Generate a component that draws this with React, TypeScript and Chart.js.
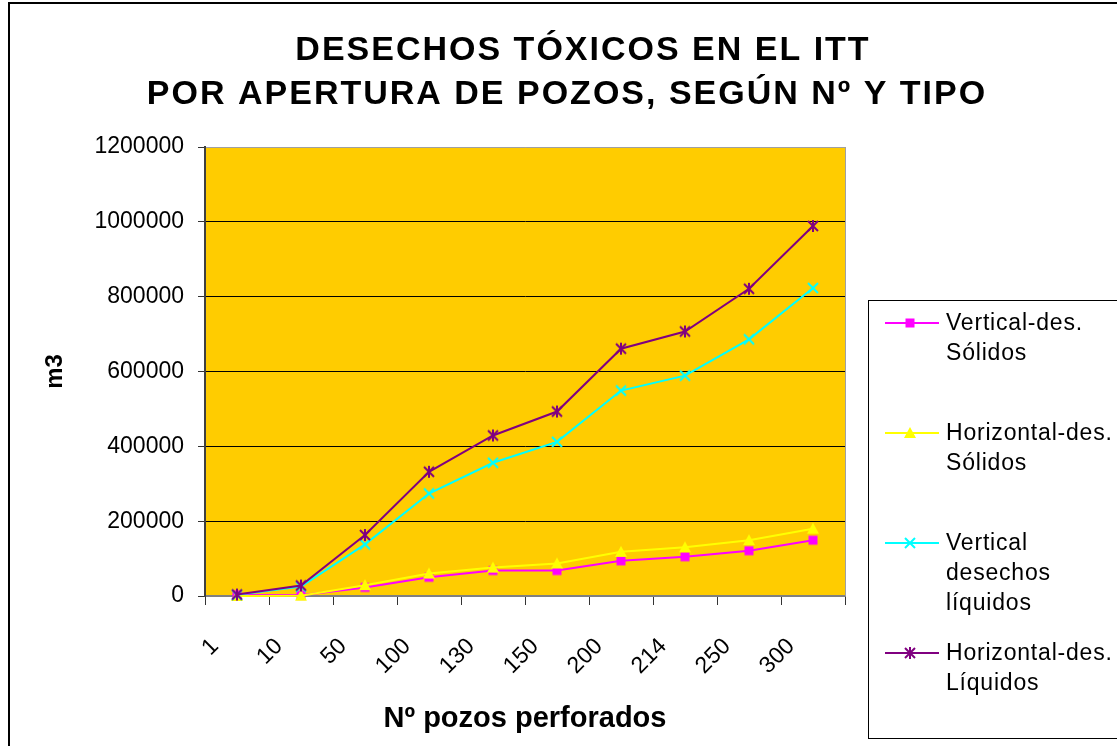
import React, { useEffect, useRef } from 'react';
import { Chart, registerables } from 'chart.js';

Chart.register(...registerables);

// ---- data ----
const categories = ['1', '10', '50', '100', '130', '150', '200', '214', '250', '300'];
const verticalSolidos = [3000, 2000, 23000, 50000, 68000, 68000, 94000, 105000, 121000, 149000];
const horizontalSolidos = [0, 1000, 29000, 60000, 76000, 87000, 118000, 130000, 149000, 180000];
const verticalLiquidos = [3000, 25000, 138000, 274000, 356000, 412000, 549000, 589000, 686000, 823000];
const horizontalLiquidos = [4000, 28000, 163000, 332000, 429000, 493000, 661000, 707000, 821000, 989000];
const yTickLabels = ['0', '200000', '400000', '600000', '800000', '1000000', '1200000'];
const seriesNames = [
  ['Vertical-des.', 'Sólidos'],
  ['Horizontal-des.', 'Sólidos'],
  ['Vertical', 'desechos', 'líquidos'],
  ['Horizontal-des.', 'Líquidos'],
];
const seriesColors = ['#FF00FF', '#FFFF00', '#00FFFF', '#800080'];
const seriesMarkers = ['square', 'triangle', 'x', 'star'];
const titleLines = ['DESECHOS TÓXICOS EN EL ITT', 'POR APERTURA DE POZOS, SEGÚN Nº Y TIPO'];
const xTitle = 'Nº pozos perforados';
const yTitle = 'm3';

const FONT = 'Arial, "Liberation Sans", sans-serif';

function makeMarker(kind: string, color: string): HTMLCanvasElement {
  const c = document.createElement('canvas');
  const s = 14;
  c.width = s;
  c.height = s;
  const g = c.getContext('2d') as CanvasRenderingContext2D;
  const m = 7;
  g.fillStyle = color;
  g.strokeStyle = color;
  g.lineWidth = 2;
  if (kind === 'square') {
    g.fillRect(m - 4.5, m - 4.5, 9, 9);
  } else if (kind === 'triangle') {
    g.beginPath();
    g.moveTo(m, m - 6);
    g.lineTo(m + 6, m + 5);
    g.lineTo(m - 6, m + 5);
    g.closePath();
    g.fill();
  } else if (kind === 'x') {
    g.beginPath();
    g.moveTo(m - 5, m - 5);
    g.lineTo(m + 5, m + 5);
    g.moveTo(m + 5, m - 5);
    g.lineTo(m - 5, m + 5);
    g.stroke();
  } else {
    g.beginPath();
    g.moveTo(m - 5, m - 5);
    g.lineTo(m + 5, m + 5);
    g.moveTo(m + 5, m - 5);
    g.lineTo(m - 5, m + 5);
    g.moveTo(m, m - 6);
    g.lineTo(m, m + 6);
    g.stroke();
  }
  return c;
}

export default function App() {
  const ref = useRef<HTMLCanvasElement | null>(null);

  useEffect(() => {
    if (!ref.current) return;
    const markers = seriesMarkers.map((k, i) => makeMarker(k, seriesColors[i]));
    const seriesData = [verticalSolidos, horizontalSolidos, verticalLiquidos, horizontalLiquidos];
    const orders = [3, 2, 1, 0];

    const framePlugin = {
      id: 'frame',
      beforeDraw(chart: any) {
        const ctx = chart.ctx;
        const a = chart.chartArea;
        ctx.save();
        ctx.fillStyle = '#ffffff';
        ctx.fillRect(0, 0, chart.width, chart.height);
        ctx.strokeStyle = '#000000';
        ctx.lineWidth = 2;
        ctx.strokeRect(9, 3, 1200, 800);
        ctx.fillStyle = '#FFCC00';
        ctx.fillRect(a.left, a.top, a.right - a.left, a.bottom - a.top);
        // title
        ctx.fillStyle = '#000';
        ctx.font = `bold 34px ${FONT}`;
        (ctx as any).letterSpacing = '2px';
        ctx.textAlign = 'center';
        ctx.textBaseline = 'middle';
        ctx.fillText(titleLines[0], 583, 51);
        ctx.fillText(titleLines[1], 567, 95);
        ctx.restore();
      },
      beforeDatasetsDraw(chart: any) {
        const ctx = chart.ctx;
        const a = chart.chartArea;
        ctx.save();
        ctx.strokeStyle = '#a0a0a0';
        ctx.lineWidth = 1;
        ctx.beginPath();
        ctx.moveTo(Math.round(a.right) + 0.5, a.top);
        ctx.lineTo(Math.round(a.right) + 0.5, a.bottom);
        ctx.stroke();
        ctx.restore();
      },
      afterDraw(chart: any) {
        const ctx = chart.ctx;
        const a = chart.chartArea;
        const boxLeft = a.right + 23;
        const boxTop = 300;
        ctx.save();
        ctx.strokeStyle = '#000';
        ctx.lineWidth = 1;
        ctx.strokeRect(boxLeft + 0.5, boxTop + 0.5, 400, 438);
        ctx.font = `23px ${FONT}`;
        (ctx as any).letterSpacing = '0.8px';
        ctx.textAlign = 'left';
        ctx.textBaseline = 'middle';
        seriesNames.forEach((lines, i) => {
          const y = boxTop + 23 + i * 110;
          ctx.strokeStyle = seriesColors[i];
          ctx.lineWidth = 2;
          ctx.beginPath();
          ctx.moveTo(boxLeft + 17, y);
          ctx.lineTo(boxLeft + 71, y);
          ctx.stroke();
          ctx.drawImage(markers[i], boxLeft + 42 - 7, y - 7);
          ctx.fillStyle = '#000';
          lines.forEach((t, k) => ctx.fillText(t, boxLeft + 78, y + 1 + k * 30));
        });
        ctx.restore();
      },
    };

    const chart = new Chart(ref.current, {
      type: 'line',
      data: {
        labels: categories,
        datasets: seriesData.map((d, i) => ({
          label: seriesNames[i].join(' '),
          data: d,
          borderColor: seriesColors[i],
          backgroundColor: seriesColors[i],
          borderWidth: 2,
          pointStyle: markers[i] as any,
          pointRadius: 6,
          pointHoverRadius: 6,
          order: orders[i],
          clip: false as any,
          tension: 0,
          fill: false,
        })),
      },
      options: {
        responsive: false,
        animation: false,
        devicePixelRatio: 1,
        layout: { padding: { left: 0, top: 147, right: 272, bottom: 0 } },
        plugins: {
          legend: { display: false },
          title: { display: false },
          tooltip: { enabled: false },
        },
        scales: {
          x: {
            type: 'category',
            offset: true,
            afterFit: (s: any) => {
              s.height = 150;
            },
            grid: {
              display: true,
              drawOnChartArea: false,
              drawTicks: true,
              tickLength: 9,
              offset: true,
              tickColor: '#333',
              tickWidth: 1,
            },
            border: { display: true, color: '#808080', width: 2 },
            ticks: {
              autoSkip: false,
              maxRotation: 45,
              minRotation: 45,
              padding: 28,
              labelOffset: -22,
              color: '#000',
              font: { family: FONT, size: 23 },
            },
            title: {
              display: true,
              text: xTitle,
              color: '#000',
              font: { family: FONT, size: 29, weight: 'bold' },
              padding: { top: 0, bottom: 10 },
            },
          },
          y: {
            min: 0,
            max: 1200000,
            afterFit: (s: any) => {
              s.width = 205;
            },
            ticks: {
              stepSize: 200000,
              padding: 14,
              color: '#000',
              font: { family: FONT, size: 23 },
              callback: (_v: any, i: number) => yTickLabels[i],
            },
            grid: {
              color: (c: any) =>
                c.tick && c.tick.value === 1200000
                  ? '#a0a0a0'
                  : c.tick && c.tick.value === 0
                  ? 'rgba(0,0,0,0)'
                  : '#000',
              lineWidth: 1,
              drawTicks: true,
              tickLength: 7,
              tickColor: '#333',
            },
            border: { display: true, color: '#404040', width: 2 },
            title: {
              display: true,
              text: yTitle,
              color: '#000',
              font: { family: FONT, size: 24, weight: 'bold' },
              padding: { top: 41, bottom: 0 },
            },
          },
        },
      },
      plugins: [framePlugin],
    } as any);

    return () => chart.destroy();
  }, []);

  return (
    <div style={{ position: 'fixed', left: 0, top: 0, width: 1117, height: 746, background: '#fff' }}>
      <canvas ref={ref} width={1117} height={746} style={{ display: 'block' }} />
    </div>
  );
}
